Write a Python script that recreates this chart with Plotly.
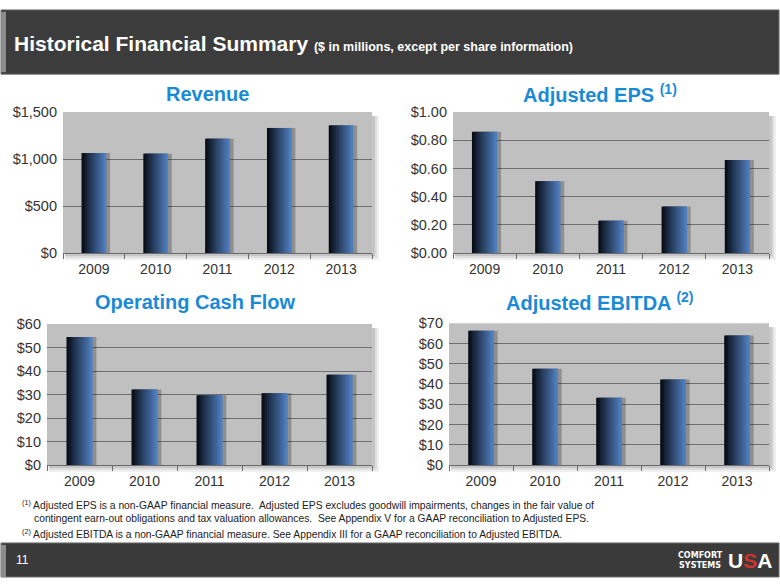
import plotly.graph_objects as go
import numpy as np

W, H = 780, 585

years = ["2009", "2010", "2011", "2012", "2013"]
revenue = [1065, 1058, 1217, 1331, 1358]
adj_eps = [0.86, 0.51, 0.23, 0.33, 0.66]
op_cash_flow = [54.5, 32.2, 29.7, 30.6, 38.5]
adj_ebitda = [66.2, 47.5, 33.2, 42.2, 63.9]

FONT = "Liberation Sans, Arial, sans-serif"
TITLE_BLUE = "#1b8ad6"


def px(x):
    return min(max(x / W, 0.0), 1.0)


def py(y):
    return min(max(1 - y / H, 0.0), 1.0)


panels = [
    dict(vals=revenue, x=(63, 372), y=(107, 252), rng=[0, 1500], dtick=500, fmt=",d",
         title="<b>Revenue</b>", tx=207, ty=88),
    dict(vals=adj_eps, x=(453, 769), y=(107, 252), rng=[0, 1.0], dtick=0.2, fmt=".2f",
         title="<b>Adjusted EPS <sup>(1)</sup></b>", tx=600, ty=88),
    dict(vals=op_cash_flow, x=(47, 372), y=(325, 470), rng=[0, 60], dtick=10, fmt="d",
         title="<b>Operating Cash Flow</b>", tx=195, ty=302),
    dict(vals=adj_ebitda, x=(449, 769), y=(324, 470), rng=[0, 70], dtick=10, fmt="d",
         title="<b>Adjusted EBITDA <sup>(2)</sup></b>", tx=600, ty=302),
]

fig = go.Figure()
shapes = []
annotations = []

# Header and footer bars
shapes.append(dict(type="rect", xref="paper", yref="paper", x0=px(1), x1=px(779), y0=py(68), y1=py(2),
                   fillcolor="#3c3c3c", line=dict(color="#6a6a6a", width=1), layer="below"))
shapes.append(dict(type="rect", xref="paper", yref="paper", x0=px(1), x1=px(6), y0=py(66), y1=py(4),
                   fillcolor="#8c8c8c", line=dict(width=0), layer="below"))
shapes.append(dict(type="rect", xref="paper", yref="paper", x0=px(1), x1=px(779), y0=py(585), y1=py(550),
                   fillcolor="#3a3a3a", line=dict(color="#6a6a6a", width=1), layer="below"))
shapes.append(dict(type="rect", xref="paper", yref="paper", x0=px(1), x1=px(6), y0=py(585), y1=py(552),
                   fillcolor="#8c8c8c", line=dict(width=0), layer="below"))

NS = 14
width = 0.4
c0 = np.array([4, 6, 12])
c1 = np.array([82, 130, 196])

for i, p in enumerate(panels):
    k = "" if i == 0 else str(i + 1)
    xa = "x" + k
    ya = "y" + k
    x0, x1 = p["x"]
    y0, y1 = p["y"]
    # plot-area drop shadow and background
    for s, a in [(7, 0.06), (5, 0.08), (3, 0.10)]:
        shapes.append(dict(type="rect", xref="paper", yref="paper",
                           x0=px(x0 + 2), x1=px(x1 + s), y0=py(y1 + s), y1=py(y0 + 4),
                           fillcolor=f"rgba(0,0,0,{a})", line=dict(width=0), layer="below"))
    shapes.append(dict(type="rect", xref="paper", yref="paper",
                       x0=px(x0), x1=px(x1), y0=py(y1), y1=py(y0),
                       fillcolor="#c0c0c0", line=dict(width=0), layer="below"))
    # bar shadow
    fig.add_trace(go.Bar(x=years, y=p["vals"], xaxis=xa, yaxis=ya, width=width * 0.9,
                         offset=-width / 2 + width * 0.25,
                         marker=dict(color="rgba(30,30,30,0.3)", line=dict(width=0)),
                         hoverinfo="skip", showlegend=False))
    # gradient bars built from overlapping slices
    for j in range(NS):
        t = (j + 0.5) / NS
        c = c0 + (c1 - c0) * (t ** 0.9)
        col = f"rgb({int(c[0])},{int(c[1])},{int(c[2])})"
        off = -width / 2 + j * width / NS
        wdt = (width / 2 - off) if j == NS - 1 else min(width / NS * 1.8, width / 2 - off)
        fig.add_trace(go.Bar(x=years, y=p["vals"], xaxis=xa, yaxis=ya,
                             width=wdt, offset=off,
                             marker=dict(color=col, line=dict(width=0)),
                             showlegend=False, hoverinfo="x+y"))
    fig.update_layout(**{
        ("xaxis" + k): dict(domain=[px(x0), px(x1)], anchor=ya, type="category",
                             showgrid=False, showline=True, linecolor="#6b6b6b", linewidth=1,
                             ticks="outside", tickson="boundaries", ticklen=5, tickcolor="#6b6b6b",
                             tickfont=dict(family=FONT, size=14, color="#333333"),
                             ticklabelstandoff=3, zeroline=False),
        ("yaxis" + k): dict(domain=[py(y1), py(y0)], anchor=xa, range=p["rng"], dtick=p["dtick"],
                             tickprefix="$", tickformat=p["fmt"], showgrid=True,
                             gridcolor="#6e6e6e", gridwidth=1, zeroline=False, showline=False,
                             ticks="", tickfont=dict(family=FONT, size=14.5, color="#333333"),
                             ticklabelstandoff=5),
    })
    annotations.append(dict(xref="paper", yref="paper", x=px(p["tx"]), y=py(p["ty"]),
                            xanchor="center", yanchor="middle", text=p["title"], showarrow=False,
                            font=dict(family=FONT, size=20, color=TITLE_BLUE)))

# Header title
annotations.append(dict(xref="paper", yref="paper", x=px(12), y=py(36), xanchor="left", yanchor="middle",
                        showarrow=False,
                        text="<b>Historical Financial Summary</b> <b><span style='font-size:12.5px'>($ in millions, except per share information)</span></b>",
                        font=dict(family=FONT, size=21, color="white")))

# Footnotes
foot = [
    (510, 20, "<sup>(1)</sup> Adjusted EPS is a non-GAAP financial measure.  Adjusted EPS excludes goodwill impairments, changes in the fair value of"),
    (525, 32, "contingent earn-out obligations and tax valuation allowances.  See Appendix V for a GAAP reconciliation to Adjusted EPS."),
    (540, 20, "<sup>(2)</sup> Adjusted EBITDA is a non-GAAP financial measure. See Appendix III for a GAAP reconciliation to Adjusted EBITDA."),
]
for yy, xx, txt in foot:
    annotations.append(dict(xref="paper", yref="paper", x=px(xx), y=py(yy), xanchor="left", yanchor="middle",
                            showarrow=False, text=txt, font=dict(family=FONT, size=10.3, color="#222222")))

# Page number and logo
annotations.append(dict(xref="paper", yref="paper", x=px(14), y=py(568), xanchor="left", yanchor="middle",
                        showarrow=False, text="11", font=dict(family=FONT, size=12, color="white")))
annotations.append(dict(xref="paper", yref="paper", x=px(725), y=py(568), xanchor="right", yanchor="middle",
                        showarrow=False, text="<b>COMFORT<br>SYSTEMS</b>",
                        font=dict(family="DejaVu Sans, sans-serif", size=8, color="white")))
annotations.append(dict(xref="paper", yref="paper", x=px(726), y=py(568), xanchor="left", yanchor="middle",
                        showarrow=False, text="<b>U<span style='color:#d2322d'>S</span>A</b>",
                        font=dict(family=FONT, size=21, color="white")))

fig.update_layout(width=W, height=H, margin=dict(l=0, r=0, t=0, b=0),
                  paper_bgcolor="white", plot_bgcolor="rgba(0,0,0,0)",
                  barmode="overlay", shapes=shapes, annotations=annotations,
                  showlegend=False)

fig.write_html("out.html", config={"displayModeBar": False},
               post_script="document.documentElement.style.margin='0px';document.body.style.margin='0px';document.body.style.padding='0px';document.body.style.overflow='hidden';")
